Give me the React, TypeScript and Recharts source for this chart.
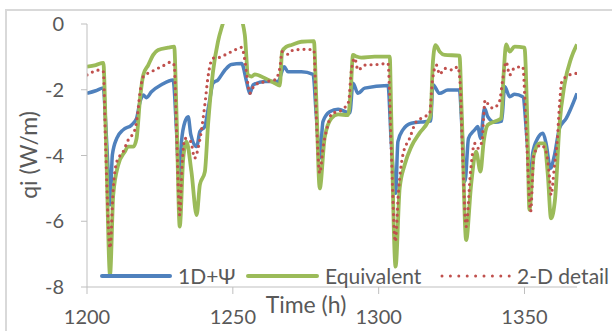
import { LineChart, Line, XAxis, YAxis, Label } from "recharts";

// time (h) and heat flux qi (W/m), one pair of arrays per model
const psiHours = [
  1200, 1203, 1205.6, 1206.4, 1207.2, 1207.9, 1208.7, 1210.2, 1212.4, 1215.3, 1217, 1218.2, 1219.3, 1220.4,
  1222.1, 1225.5, 1229.5, 1230.7, 1231.6, 1232.4, 1233.6, 1234.7, 1235.6, 1237.6, 1238.7, 1240.4, 1241.5,
  1242.1, 1243.2, 1244.9, 1247.3, 1249.5, 1253, 1254.7, 1255.8, 1257, 1261, 1265.5, 1267.6, 1268.9, 1273.5,
  1277.5, 1278.6, 1279.8, 1280.9, 1283.2, 1286.1, 1290.1, 1291.2, 1292.9, 1295.2, 1303.2, 1304.3, 1305.8,
  1306.6, 1308.3, 1311.2, 1315.8, 1317.8, 1318.6, 1320.9, 1323.7, 1327.7, 1328.5, 1329.6, 1330.8, 1332.9,
  1334, 1334.9, 1336.3, 1337.4, 1339.7, 1342.2, 1343.2, 1344.9, 1346.6, 1349.4, 1350.9, 1351.9, 1352.8,
  1354.5, 1356.3, 1357.4, 1358.9, 1360.3, 1362, 1364.3, 1368,
];
const psiQi = [
  -2.11, -2.03, -1.95, -3.0, -4.4, -5.5, -3.98, -3.48, -3.22, -3.07, -2.87, -2.36, -2.16, -2.24,
  -2.06, -1.85, -1.7, -3.27, -4.79, -3.58, -2.97, -2.82, -3.37, -3.73, -3.27, -3.12, -2.6,
  -2.3, -1.8, -1.7, -1.4, -1.23, -1.2, -1.75, -2.11, -1.85, -1.75, -1.75, -1.3, -1.45, -1.45,
  -1.53, -2.77, -4.08, -2.97, -2.67, -2.59, -2.71, -1.8, -2.11, -1.95, -1.87, -3.58, -5.15,
  -3.58, -3.22, -3.02, -2.97, -2.95, -1.85, -2.11, -2.01, -2.01, -3.07, -4.79, -3.48, -3.22,
  -3.12, -3.48, -2.56, -2.82, -2.99, -2.95, -1.9, -2.21, -2.14, -2.21, -3.58, -4.89, -3.93,
  -3.48, -3.32, -3.63, -4.39, -3.98, -3.17, -2.87, -2.11,
];

const eqHours = [
  1200, 1203, 1205.6, 1206.5, 1207.9, 1209, 1210.7, 1213, 1214.1, 1215.9, 1217, 1218.2, 1219.3, 1221,
  1222.7, 1224.4, 1227.8, 1229.9, 1230.7, 1231.8, 1233, 1234.1, 1235.8, 1237.6, 1238.7, 1240.4, 1241.5,
  1243.2, 1244.9, 1246.1, 1247.5, 1250, 1252.5, 1254.1, 1255.2, 1256.4, 1257.5, 1261, 1264.4, 1266.1,
  1266.9, 1268.4, 1270.1, 1273.5, 1277.8, 1278.6, 1279.8, 1281.5, 1283.8, 1286.1, 1289.5, 1290.4, 1291.2,
  1292.4, 1294, 1298.6, 1303.8, 1304.3, 1305.8, 1307.2, 1308.9, 1311.2, 1314, 1316.9, 1317.8, 1318.6,
  1319.5, 1320.9, 1322.6, 1327.7, 1328.5, 1330, 1331.7, 1333.4, 1334.9, 1336, 1337.4, 1339.7, 1342,
  1342.9, 1343.7, 1344.9, 1346.6, 1350, 1350.9, 1351.7, 1353.2, 1355.1, 1356.8, 1358, 1359.1, 1360.5,
  1362, 1363.7, 1366, 1368,
];
const eqQi = [
  -1.3, -1.25, -1.18, -3.5, -7.63, -5.2, -4.29, -3.88, -3.73, -3.73, -3.48, -2.26, -1.55, -1.25,
  -0.94, -0.79, -0.72, -0.69, -2.77, -6.16, -4.08, -3.58, -4.49, -5.81, -4.89, -4.5, -3.07,
  -1.45, -0.54, -0.13, 0.2, 0.3, 0.2, -0.33, -1.55, -1.6, -1.53, -1.65, -1.8, -1.87,
  -0.84, -0.69, -0.64, -0.54, -0.52, -2.26, -5.0, -3.45, -2.87, -2.75, -2.77, -2.06, -0.94,
  -0.99, -1.02, -0.99, -0.99, -2.77, -7.38, -5.0, -4.29, -3.73, -3.32, -2.97, -2.77, -1.15,
  -0.64, -0.84, -0.94, -0.96, -2.77, -6.57, -4.89, -3.88, -4.49, -3.58, -3.07, -2.97, -2.87,
  -1.45, -0.62, -0.84, -0.69, -0.72, -2.77, -5.65, -3.98, -3.63, -3.63, -4.59, -5.91, -5.3,
  -3.07, -1.85, -1.04, -0.62,
];

const detailHours = [
  1200, 1204.5, 1205.6, 1206.4, 1207.9, 1209, 1210.2, 1212.4, 1214.1, 1216.4, 1217.3, 1218.2, 1219.3,
  1222.1, 1226.1, 1228.8, 1229.9, 1230.7, 1231.8, 1232.6, 1233.6, 1235.6, 1236.9, 1238.1, 1239.5, 1240.4,
  1241.5, 1243.2, 1245.2, 1248.4, 1250.7, 1253, 1254.1, 1255.2, 1255.8, 1257.5, 1261.5, 1264.4, 1266.1,
  1266.9, 1268.9, 1270.7, 1274.7, 1277.8, 1278.6, 1279.8, 1280.9, 1282.6, 1284, 1286.1, 1288.4, 1289.7,
  1290.6, 1291.8, 1292.9, 1295.2, 1299.8, 1303.2, 1304.3, 1305.7, 1306.8, 1308.3, 1310.6, 1312.9, 1315.8,
  1317.5, 1318.4, 1319.8, 1320.9, 1322.6, 1325.4, 1327.1, 1327.9, 1328.7, 1330, 1331.5, 1332.9, 1334,
  1335.4, 1336.5, 1337.7, 1339.2, 1341.4, 1342.6, 1343.7, 1344.9, 1346.6, 1349.4, 1350.6, 1352.1, 1353.2,
  1355.7, 1357.4, 1358.6, 1359.1, 1360.3, 1361.2, 1362, 1362.8, 1365.4, 1368,
];
const detailQi = [
  -1.55, -1.4, -1.45, -3.78, -6.82, -5.0, -4.19, -3.88, -3.53, -3.22, -2.77, -2.06, -1.6,
  -1.45, -1.27, -1.16, -1.25, -3.27, -5.81, -4.29, -3.48, -3.58, -4.08, -3.78, -3.07, -2.46,
  -1.6, -1.04, -1.02, -0.89, -0.79, -0.71, -1.09, -1.85, -2.11, -1.85, -1.75, -1.7, -1.35,
  -0.84, -0.92, -0.79, -0.77, -0.79, -2.77, -4.54, -3.78, -3.07, -2.71, -2.67, -2.54, -2.36,
  -1.45, -1.04, -1.4, -1.25, -1.23, -1.2, -3.78, -6.62, -5.1, -3.98, -3.48, -2.97, -2.82,
  -2.71, -1.75, -1.25, -1.53, -1.35, -1.4, -1.3, -1.75, -3.78, -6.16, -4.49, -3.63, -3.78,
  -3.58, -2.31, -2.46, -2.56, -2.36, -1.65, -1.15, -1.55, -1.33, -1.3, -3.27, -5.7, -3.98,
  -3.68, -3.88, -4.69, -5.2, -4.29, -3.58, -2.46, -1.75, -1.55, -1.5,
];

const xTicks = [1200, 1250, 1300, 1350];
const yTicks = [-8, -6, -4, -2, 0];

const toRows = (hours: number[], qi: number[]) => hours.map((t, i) => ({ t, qi: qi[i] }));
const psiData = toRows(psiHours, psiQi);
const eqData = toRows(eqHours, eqQi);
const detailData = toRows(detailHours, detailQi);

const BLUE = "#4F81BD";
const GREEN = "#9BBB59";
const RED = "#C0504D";
const FONT = "Lato, 'Liberation Sans', sans-serif";
const TXT = "#595959";
const AXIS = "#BFBFBF";

const legendText = { position: "absolute" as const, top: 263, fontSize: 21, color: TXT, fontFamily: FONT, lineHeight: "26px" };

export default function App() {
  return (
    <div style={{ position: "absolute", left: 0, top: 0, width: 612, height: 331, overflow: "hidden", background: "#fff" }}>
      <div style={{ position: "absolute", left: 5, top: 9, width: 640, height: 360, border: "2px solid #D9D9D9" }} />
      <LineChart
        width={612}
        height={331}
        margin={{ top: 24, right: 35, bottom: 0, left: 0 }}
        style={{ position: "absolute", left: 0, top: 0 }}
      >
        <XAxis
          dataKey="t"
          type="number"
          domain={[1200, 1368]}
          ticks={xTicks}
          allowDataOverflow
          height={44}
          stroke={AXIS}
          tickSize={7}
          tickMargin={16}
          tick={{ fill: TXT, fontSize: 20, fontFamily: FONT }}
          label={
            <Label
              content={() => (
                <text x={306} y={313} textAnchor="middle" fill={TXT} fontSize={23} fontFamily={FONT}>
                  Time (h)
                </text>
              )}
            />
          }
        />
        <YAxis
          type="number"
          domain={[-8, 0]}
          ticks={yTicks}
          allowDataOverflow
          width={87}
          stroke={AXIS}
          tickSize={6}
          tickMargin={17}
          tick={{ fill: TXT, fontSize: 20, fontFamily: FONT }}
          label={
            <Label
              content={() => (
                <text
                  x={28}
                  y={155}
                  transform="rotate(-90 28 155)"
                  textAnchor="middle"
                  dominantBaseline="central"
                  fill={TXT}
                  fontSize={23}
                  fontFamily={FONT}
                >
                  qi (W/m)
                </text>
              )}
            />
          }
        />
        <Line data={psiData} dataKey="qi" type="monotone" stroke={BLUE} strokeWidth={3.5} dot={false} isAnimationActive={false} />
        <Line data={eqData} dataKey="qi" type="monotone" stroke={GREEN} strokeWidth={3.8} dot={false} isAnimationActive={false} />
        <Line
          data={detailData}
          dataKey="qi"
          type="monotone"
          stroke={RED}
          strokeWidth={3.2}
          strokeDasharray="0 6"
          strokeLinecap="round"
          dot={false}
          isAnimationActive={false}
        />
      </LineChart>
      <svg width={612} height={331} style={{ position: "absolute", left: 0, top: 0, pointerEvents: "none" }}>
        <line x1={102} x2={170} y1={276} y2={276} stroke={BLUE} strokeWidth={4} strokeLinecap="round" />
        <line x1={248} x2={317} y1={276} y2={276} stroke={GREEN} strokeWidth={4} strokeLinecap="round" />
        <line x1={442} x2={510} y1={276} y2={276} stroke={RED} strokeWidth={3} strokeDasharray="0 8.4" strokeLinecap="round" />
      </svg>
      <div style={{ ...legendText, left: 178 }}>1D+Ψ</div>
      <div style={{ ...legendText, left: 325 }}>Equivalent</div>
      <div style={{ ...legendText, left: 517 }}>2-D detail</div>
    </div>
  );
}
